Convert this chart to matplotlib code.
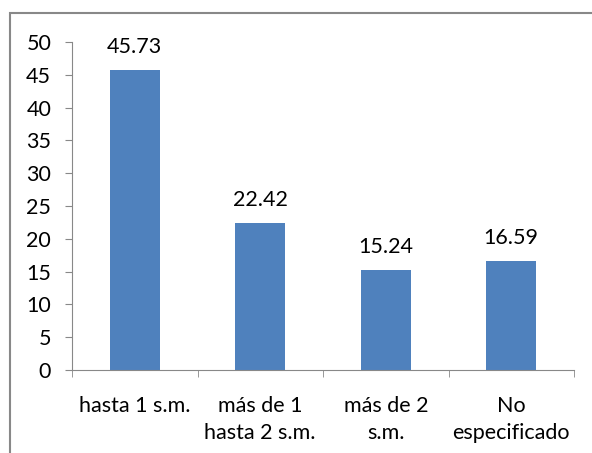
import matplotlib.pyplot as plt
from matplotlib.patches import Rectangle

categories = ['hasta 1 s.m.', 'más de 1\nhasta 2 s.m.', 'más de 2\ns.m.', 'No\nespecificado']
values = [45.73, 22.42, 15.24, 16.59]
yticks = [0, 5, 10, 15, 20, 25, 30, 35, 40, 45, 50]

plt.rcParams['font.family'] = ['Lato', 'DejaVu Sans']
fs = 15.5

fig = plt.figure(figsize=(5.92, 4.53), dpi=100)
# outer chart frame
fig.patches.append(Rectangle((10 / 592, -0.05), 1.0, (453 - 13) / 453 + 0.05,
                             transform=fig.transFigure, fill=False,
                             edgecolor='#888888', linewidth=1.5))

ax = fig.add_axes([72 / 592, (453 - 370) / 453, (574 - 72) / 592, (370 - 42) / 453])
x = list(range(len(categories)))
ax.bar(x, values, width=0.4, color='#4f81bd')
for xi, v in zip(x, values):
    ax.text(xi, v + 2.0, '%.2f' % v, ha='center', va='bottom', fontsize=fs)

ax.set_xlim(-0.5, len(categories) - 0.5)
ax.set_ylim(0, 50)
ax.set_yticks(yticks)
ax.set_yticklabels([str(t) for t in yticks], fontsize=fs)
ax.set_xticks(x)
ax.set_xticklabels(categories, fontsize=fs, linespacing=1.4)
ax.set_xticks([i - 0.5 for i in range(len(categories) + 1)], minor=True)
ax.tick_params(axis='x', which='major', length=0, pad=19)
ax.tick_params(axis='x', which='minor', length=5, color='#888888', direction='out')
ax.tick_params(axis='y', length=5, color='#888888', direction='out', pad=10)

for s in ['top', 'right']:
    ax.spines[s].set_visible(False)
for s in ['left', 'bottom']:
    ax.spines[s].set_color('#888888')

fig.savefig('out.png', dpi=100)
